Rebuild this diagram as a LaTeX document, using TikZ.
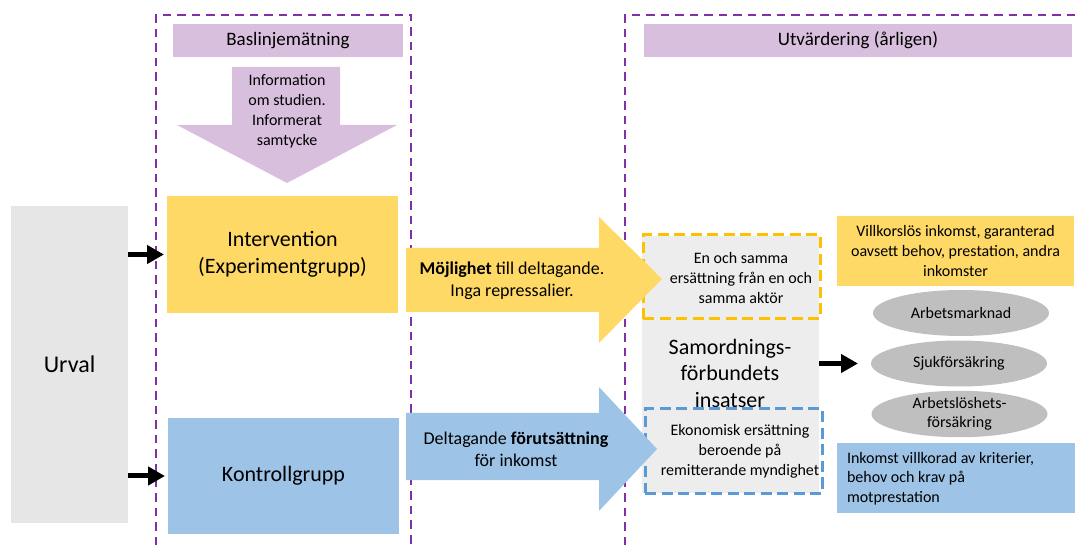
\documentclass[tikz,border=0pt]{standalone}
\usepackage{fontspec}
\setmainfont{Carlito}
\usetikzlibrary{arrows.meta,shapes.geometric}
\definecolor{lav}{HTML}{D8BFDD}
\definecolor{gold}{HTML}{FFD966}
\definecolor{sky}{HTML}{9DC3E6}
\definecolor{urvgray}{HTML}{E6E6E6}
\definecolor{samgray}{HTML}{EDEDED}
\definecolor{ellgray}{HTML}{BFBFBF}
\definecolor{purp}{HTML}{7E32A6}
\definecolor{dashgold}{HTML}{FFC000}
\definecolor{dashblue}{HTML}{5B9BD5}
\tikzset{
  plain/.style={inner sep=0pt, outer sep=0pt, align=center},
  header/.style={plain, fill=lav, font=\fontsize{19}{23}\selectfont},
  bigbox/.style={plain, font=\fontsize{22}{27}\selectfont},
  smallbox/.style={plain, font=\fontsize{16}{20}\selectfont},
  oval/.style={ellipse, plain, fill=ellgray, minimum width=176pt, minimum height=46pt, font=\fontsize{16}{19}\selectfont},
  phase/.style={purp, line width=2.2pt, dash pattern=on 8.5pt off 6pt},
  golddash/.style={draw=dashgold, line width=3pt, dash pattern=on 11pt off 5.5pt},
  bluedash/.style={draw=dashblue, line width=3pt, dash pattern=on 11pt off 5.5pt},
  blockarrow/.style={line width=5pt, -{Triangle[length=17pt,width=18pt]}},
}
\begin{document}
\begin{tikzpicture}[x=1pt,y=-1pt]
\useasboundingbox (0,0) rectangle (1080,545);
% phase frames
\draw[phase] (156,545) -- (156,15) -- (411,15) -- (411,545);
\draw[phase] (625,545) -- (625,15) -- (1080,15);
% headers
\node[header, minimum width=230pt, minimum height=33pt] (bas) at (288,40.5) {Baslinjemätning};
\node[header, minimum width=428pt, minimum height=33pt] (utv) at (858,40.5) {Utvärdering (årligen)};
% down arrow
\fill[lav] (232,67) -- (340,67) -- (340,125) -- (397,125) -- (287,183) -- (177,125) -- (232,125) -- cycle;
\node[plain, font=\fontsize{16}{20}\selectfont] (info) at (287,111) {Information\\om studien.\\Informerat\\samtycke};
% main boxes
\node[bigbox, fill=urvgray, minimum width=117pt, minimum height=317pt, font=\fontsize{24}{29}\selectfont] (urval) at (69.5,364.5) {Urval};
\node[bigbox, fill=gold, minimum width=231pt, minimum height=117pt] (int) at (282.5,254.5) {Intervention\\(Experimentgrupp)};
\node[bigbox, fill=sky, minimum width=231pt, minimum height=116pt] (kon) at (283.5,476) {Kontrollgrupp};
% samordningsförbund
\node[plain, fill=samgray, minimum width=177pt, minimum height=257pt] (sam) at (730.5,364.5) {};
\node[plain, font=\fontsize{22}{26.5}\selectfont] (samtxt) at (730,373) {Samordnings-\\förbundets\\insatser};
\node[plain, golddash, minimum width=177pt, minimum height=84pt] (ydash) at (731.5,277) {};
\node[plain, bluedash, minimum width=177pt, minimum height=84pt] (bdash) at (733.5,451) {};
\node[smallbox] (ytxt) at (741,278) {En och samma\\ersättning från en och\\samma aktör};
\node[smallbox] (btxt) at (740,451) {Ekonomisk ersättning\\beroende på\\remitterande myndighet};
% big arrows
\fill[gold] (406,248) -- (599,248) -- (599,217) -- (662,279) -- (599,343) -- (599,312) -- (406,312) -- cycle;
\fill[sky] (406,413) -- (599,413) -- (599,387) -- (657,449) -- (599,511) -- (599,480) -- (406,480) -- cycle;
\node[plain, font=\fontsize{18}{22}\selectfont] (ytext) at (512,281) {\textbf{Möjlighet} till deltagande.\\Inga repressalier.};
\node[plain, font=\fontsize{18}{22}\selectfont] (btext) at (516,449) {Deltagande \textbf{förutsättning}\\för inkomst};
% right side
\node[smallbox, fill=gold, minimum width=237pt, minimum height=70pt] (vill) at (955.5,251) {Villkorslös inkomst, garanterad\\oavsett behov, prestation, andra\\inkomster};
\node[oval] (arb) at (961,313) {Arbetsmarknad};
\node[oval] (sjuk) at (959,363.5) {Sjukförsäkring};
\node[oval] (alos) at (959.5,414) {Arbetslöshets-\\försäkring};
\node[plain, fill=sky, minimum width=238pt, minimum height=70pt] (ink) at (956,478) {};
\node[plain, align=left, anchor=west, font=\fontsize{16}{19.5}\selectfont] (inktxt) at (847,478.5) {Inkomst villkorad av kriterier,\\behov och krav på\\motprestation};
% black arrows
\draw[blockarrow, shorten >=3pt] (int.west -| urval.east) -- (int.west);
\draw[blockarrow, shorten >=3pt] (kon.west -| urval.east) -- (kon.west);
\draw[blockarrow, shorten >=13pt] (sjuk.west -| sam.east) -- (sjuk.west);
\end{tikzpicture}
\end{document}
